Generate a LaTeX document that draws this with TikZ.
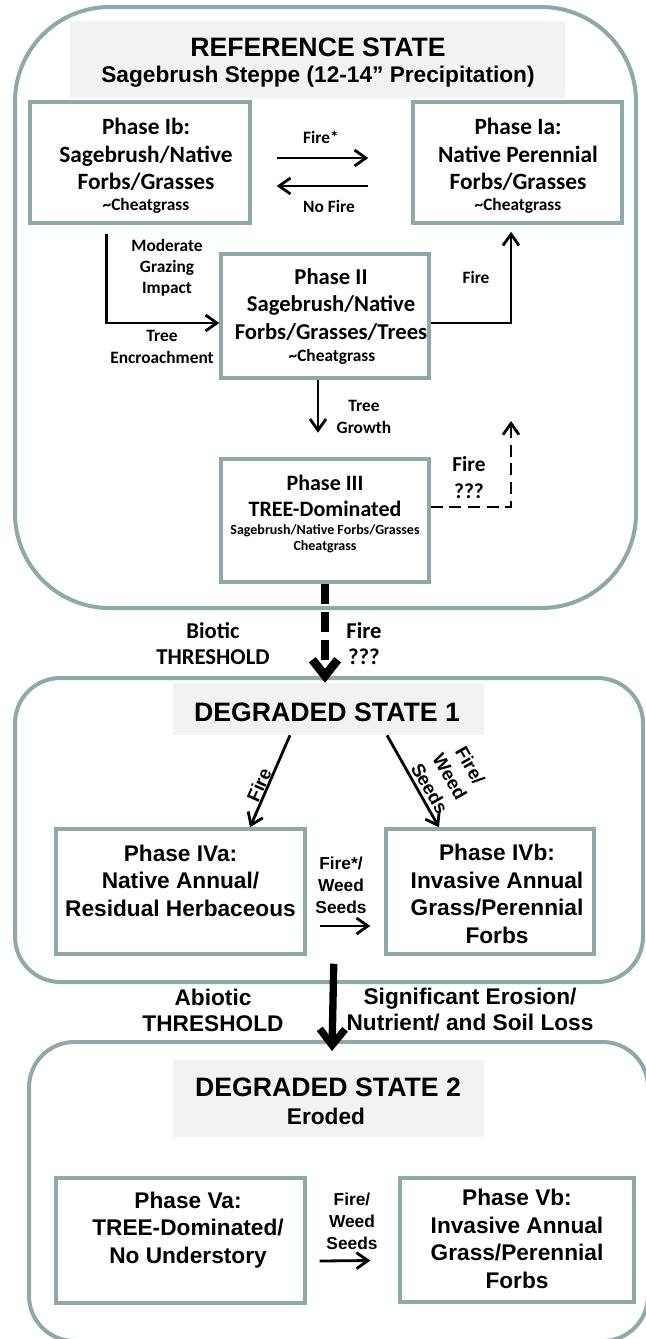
\documentclass[tikz,border=0pt]{standalone}
\usepackage{fontspec}
\newfontfamily\fcal{Carlito}
\newfontfamily\fari{Liberation Sans}
\usetikzlibrary{arrows.meta,fit,calc}
\definecolor{bordc}{RGB}{143,168,170}
\definecolor{hdrgray}{RGB}{242,242,242}
\begin{document}
\begin{tikzpicture}[x=0.75pt,y=-0.75pt,
  stbox/.style={draw=bordc, line width=3pt, inner sep=0pt},
  phbox/.style={draw=bordc, line width=2.6pt, inner sep=0pt},
  hdr/.style={fill=hdrgray, inner sep=0pt},
  ca/.style 2 args={align=center, inner sep=0pt, font=\fcal\bfseries\fontsize{#1}{#2}\selectfont},
  ar/.style 2 args={align=center, inner sep=0pt, font=\fari\bfseries\fontsize{#1}{#2}\selectfont},
  arr/.style={-{Straight Barb[length=8.5pt,width=12pt]}, line width=2.1pt},
  darr/.style={arr, dash pattern=on 9pt off 5pt},
  bigd/.style={-{Straight Barb[length=12pt,width=19pt]}, line width=6.5pt, dash pattern=on 15pt off 6pt},
  bigs/.style={-{Straight Barb[length=12pt,width=19pt]}, line width=5.5pt},
]
\fill[white] (0,0) rectangle (646,1339);
\useasboundingbox (0,0) rectangle (646,1339);

% state containers
\node[stbox, rounded corners=71pt, fit={(15,7)(636,608)}] (s0) {};
\node[stbox, rounded corners=34pt, fit={(15,678)(643,982)}] (s1) {};
\node[stbox, rounded corners=34pt, fit={(29,1042)(648,1341)}] (s2) {};

% headers
\node[hdr, fit={(70,21)(565,98)}] (h0) {};
\node[hdr, fit={(173,683)(484,735)}] (d1h) {};
\node[hdr, fit={(173,1060)(484,1137)}] (d2h) {};

% phase boxes
\node[phbox, fit={(30,102)(250,223)}] (ib) {};
\node[phbox, fit={(413,102)(622,223)}] (ia) {};
\node[phbox, fit={(221,254)(429,378)}] (ph2) {};
\node[phbox, fit={(221,459)(429,582)}] (ph3) {};
\node[phbox, fit={(56,829)(305,954)}] (iva) {};
\node[phbox, fit={(386,829)(594,954)}] (ivb) {};
\node[phbox, fit={(56,1178)(305,1303)}] (va) {};
\node[phbox, fit={(400,1178)(634,1302)}] (vb) {};

\coordinate (fq) at (511,421);

% connectors
\draw[arr] ($(ib.east)+(25,-4.5)$) -- ($(ia.west)+(-43,-4.5)$);
\draw[arr] ($(ia.west)+(-43,23.5)$) -- ($(ib.east)+(25,23.5)$);
\draw[arr] ($(ib.south west)+(78,9)$) |- ($(ph2.west)+(0,7)$);
\draw[arr] ($(ph2.east)+(0,7)$) -| ($(ia.south)+(-6.5,7)$);
\draw[arr] ($(ph2.south)+(-7,0)$) -- ($(ph2.south)+(-7,53)$);
\draw[darr] ($(ph3.east)+(0,-13.5)$) -| (fq);
\draw[bigd] (ph3.south) -- (ph3.south |- d1h.north);
\draw[arr] ($(d1h.south)+(-38.5,0)$) -- ($(iva.north)+(69.5,0)$);
\draw[arr] ($(d1h.south)+(58.5,0)$) -- ($(ivb.north)+(-51,0)$);
\draw[arr] ($(iva.east)+(13,34.5)$) -- ($(ivb.west)+(-14,34.5)$);
\draw[bigs] ($(iva.south east)+(27,8)$) -- ($(s2.north)+(-6.5,11)$);
\draw[arr] ($(va.east)+(13,20.5)$) -- ($(vb.west)+(-28,20.5)$);

% reference state texts
\node[ar={20}{24}] (t1) at (318,47) {REFERENCE STATE};
\node[ar={17}{20}] (t2) at (318,77) {Sagebrush Steppe (12-14” Precipitation)};
\node[ca={17.5}{20.6}] (tib) at (146,154.5) {Phase Ib:\\Sagebrush/Native\\Forbs/Grasses};
\node[ca={13}{15}] (tibc) at (146,206) {\textasciitilde Cheatgrass};
\node[ca={17.5}{20.6}] (tia) at (518,154.5) {Phase Ia:\\Native Perennial\\Forbs/Grasses};
\node[ca={13}{15}] (tiac) at (518,206) {\textasciitilde Cheatgrass};
\node[ca={13}{15}] (lf1) at (321,137) {Fire*};
\node[ca={13}{15}] (lnf) at (329,206) {No Fire};
\node[ca={13}{15.75}] (lmg) at (167,268) {Moderate\\Grazing\\Impact};
\node[ca={17}{20.6}] (tp2) at (331,304.5) {Phase II\\Sagebrush/Native\\Forbs/Grasses/Trees};
\node[ca={13}{15}] (tp2c) at (332,357) {\textasciitilde Cheatgrass};
\node[ca={13}{15}] (lf2) at (476,277) {Fire};
\node[ca={13}{16.5}] (lte) at (162,347) {Tree\\Encroachment};
\node[ca={13}{16.5}] (ltg) at (364,417) {Tree\\Growth};
\node[ca={16.5}{19.5}] (tp3) at (325,496) {Phase III\\TREE-Dominated};
\node[ca={10.5}{12}] (tp3s) at (325,539) {Sagebrush/Native Forbs/Grasses\\Cheatgrass};
\node[ca={16}{20}] (lfq) at (469,477.5) {Fire\\???};
\node[ca={17}{20}] (lbt) at (213,643.5) {Biotic\\THRESHOLD};
\node[ca={17}{20}] (lfq2) at (364,643.5) {Fire\\???};

% degraded state 1
\node[ar={20}{24}] (td1) at (327,712) {DEGRADED STATE 1};
\node[ar={17}{20.6}] (tiva) at (180.5,880.5) {Phase IVa:\\Native Annual/\\Residual Herbaceous};
\node[ar={17}{20.6}] (tivb) at (497,894) {Phase IVb:\\Invasive Annual\\Grass/Perennial\\Forbs};
\node[ar={13}{16.5}] (lfw1) at (341,885) {Fire*/\\Weed\\Seeds};
\node[ar={14}{17}, rotate=66] (lfr) at (259,785) {Fire};
\node[ar={14}{17.5}, rotate=-60] (lfwr) at (450,777) {Fire/\\Weed\\Seeds};
\node[ar={17}{19.5}] (lat) at (213,1010) {Abiotic\\THRESHOLD};
\node[ar={17}{19.5}] (lse) at (470,1010) {Significant Erosion/\\Nutrient/ and Soil Loss};

% degraded state 2
\node[ar={20}{24}] (td2) at (328,1087) {DEGRADED STATE 2};
\node[ar={17}{20}] (ter) at (326,1116) {Eroded};
\node[ar={17}{20.6}] (tva) at (188,1230) {Phase Va:\\TREE-Dominated/\\No Understory};
\node[ar={17}{20.6}] (tvb) at (517,1239) {Phase Vb:\\Invasive Annual\\Grass/Perennial\\Forbs};
\node[ar={13}{16.5}] (lfw2) at (352,1221) {Fire/\\Weed\\Seeds};
\end{tikzpicture}
\end{document}
